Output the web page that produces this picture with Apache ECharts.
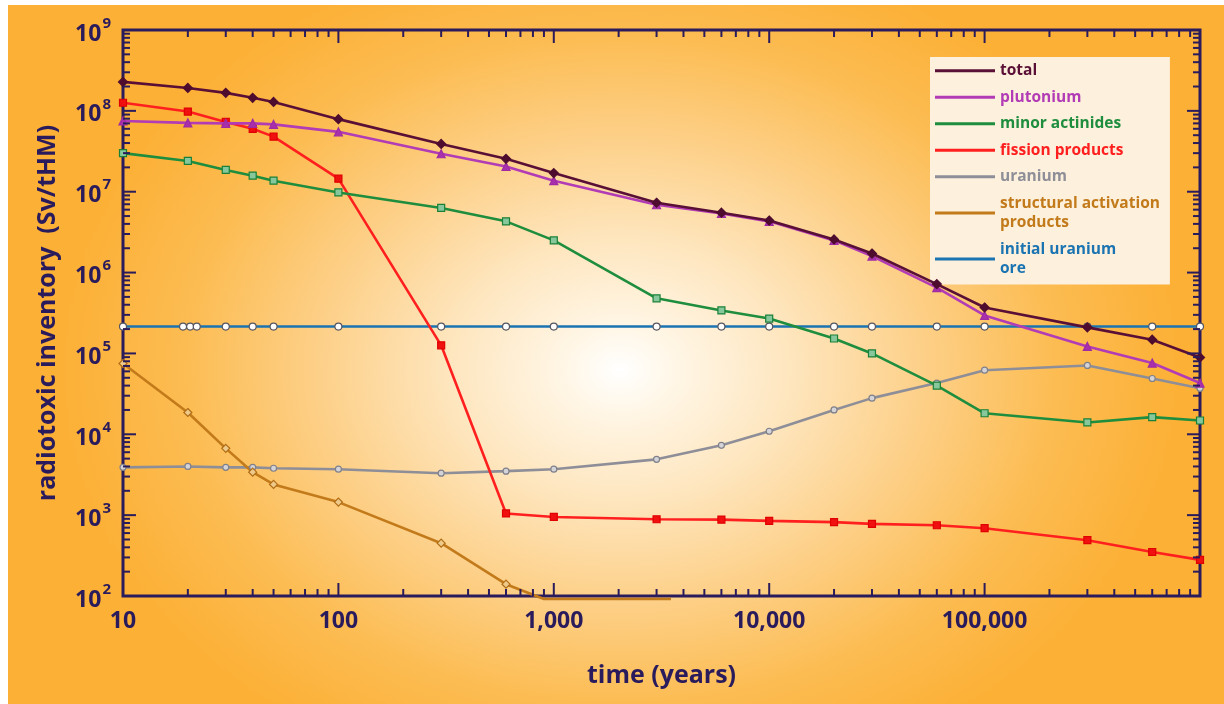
<!DOCTYPE html>
<html>
<head>
<meta charset="utf-8">
<script src="https://cdn.jsdelivr.net/npm/echarts@6/dist/echarts.min.js"></script>
<style>
  html, body { margin: 0; padding: 0; background: #ffffff; }
  #wrap { position: relative; width: 1224px; height: 704px; overflow: hidden; background: #ffffff; }
  #bg { position: absolute; left: 8px; top: 5px; right: 0; bottom: 0;
        background: radial-gradient(ellipse 560px 430px at 612px 365px,
          #ffffff 0%, #fff6e6 10%, #fee6bf 30%, #fdcf86 55%, #fcbc52 78%, #fcb036 100%); }
  #chart { position: absolute; left: 0; top: 0; width: 1224px; height: 704px; }
</style>
</head>
<body>
<div id="wrap"><div id="bg"></div><div id="chart"></div></div>
<script>
// ---- data (years, Sv/tHM) ----
const years = [10, 20, 30, 40, 50, 100, 300, 600, 1000, 3000, 6000, 10000, 20000, 30000, 60000, 100000, 300000, 600000, 1000000];

const totalVals      = [2.28e8, 1.92e8, 1.67e8, 1.45e8, 1.29e8, 7.9e7, 3.9e7, 2.55e7, 1.7e7, 7.3e6, 5.5e6, 4.4e6, 2.57e6, 1.72e6, 7.2e5, 3.7e5, 2.1e5, 1.48e5, 8.9e4];
const plutoniumVals  = [7.5e7, 7.1e7, 7.0e7, 7.0e7, 6.8e7, 5.5e7, 2.95e7, 2.05e7, 1.37e7, 6.9e6, 5.4e6, 4.3e6, 2.5e6, 1.6e6, 6.5e5, 2.95e5, 1.22e5, 7.6e4, 4.3e4];
const minorActVals   = [3.0e7, 2.4e7, 1.86e7, 1.58e7, 1.37e7, 9.8e6, 6.3e6, 4.3e6, 2.5e6, 4.8e5, 3.4e5, 2.7e5, 1.53e5, 1.0e5, 4.0e4, 1.82e4, 1.4e4, 1.63e4, 1.48e4];
const fissionVals    = [1.26e8, 9.8e7, 7.3e7, 6.0e7, 4.8e7, 1.45e7, 1.26e5, 1.05e3, 950, 890, 880, 850, 820, 780, 750, 690, 490, 350, 280];
const uraniumVals    = [3.9e3, 4.0e3, 3.9e3, 3.9e3, 3.8e3, 3.7e3, 3.3e3, 3.5e3, 3.7e3, 4.9e3, 7.3e3, 1.09e4, 2.0e4, 2.8e4, 4.3e4, 6.2e4, 7.1e4, 4.9e4, 3.7e4];

const structYears    = [10, 20, 30, 40, 50, 100, 300, 600, 900, 3500];
const structVals     = [7.5e4, 1.86e4, 6.7e3, 3.4e3, 2.4e3, 1.45e3, 450, 140, 92, 92];
const structMarked   = 8; // the first 8 points carry markers; the rest is the floor segment

const oreYears       = [10, 19, 20.5, 22, 30, 40, 50, 100, 300, 600, 1000, 3000, 6000, 10000, 20000, 30000, 60000, 100000, 300000, 600000, 1000000];
const oreVals        = [2.15e5, 2.15e5, 2.15e5, 2.15e5, 2.15e5, 2.15e5, 2.15e5, 2.15e5, 2.15e5, 2.15e5, 2.15e5, 2.15e5, 2.15e5, 2.15e5, 2.15e5, 2.15e5, 2.15e5, 2.15e5, 2.15e5, 2.15e5, 2.15e5];

const xMajorTicks = [10, 100, 1000, 10000, 100000, 1000000];
const yMajorTicks = [1e2, 1e3, 1e4, 1e5, 1e6, 1e7, 1e8, 1e9];
const minorMultiples = [2, 3, 4, 5, 6, 7, 8, 9];
const xLabelShown = ['10', '100', '1,000', '10,000', '100,000'];

const legendLabels = {
  'total': 'total',
  'plutonium': 'plutonium',
  'minor actinides': 'minor actinides',
  'fission products': 'fission products',
  'uranium': 'uranium',
  'structural activation products': 'structural activation\nproducts',
  'initial uranium ore': 'initial uranium\nore'
};

const C = {
  total: '#5a1036', plut: '#b23bb6', minor: '#1e8e3e', fis: '#ff1f1f',
  ura: '#8e8e98', str: '#c27a1a', ore: '#1b74b2', axis: '#2a1b5c'
};

function pairs(xs, ys) { return xs.map((x, i) => [x, ys[i]]); }

// tick data
const xTickData = [];
xMajorTicks.forEach((d, i) => {
  xTickData.push([d, 1e2, 1]);
  if (i < xMajorTicks.length - 1) minorMultiples.forEach(m => xTickData.push([d * m, 1e2, 0]));
});
const yTickData = [];
yMajorTicks.forEach((d, i) => {
  yTickData.push([10, d, 1]);
  if (i < yMajorTicks.length - 1) minorMultiples.forEach(m => yTickData.push([10, d * m, 0]));
});

const FONT = 'Open Sans';
const chart = echarts.init(document.getElementById('chart'), null, { renderer: 'canvas' });

function lineSeries(name, data, color, symbol, size, fill, border, z) {
  return {
    name, type: 'line', data, z: z,
    symbol, symbolSize: size, showSymbol: true,
    lineStyle: { color, width: 2.6 },
    itemStyle: { color: fill, borderColor: border, borderWidth: 1.2 },
    emphasis: { disabled: true }
  };
}

function legendItem(name, color) {
  return { name, itemStyle: { color, borderWidth: 0 }, textStyle: { color } };
}

const option = {
  animation: false,
  backgroundColor: 'transparent',
  grid: { left: 123, right: 24, top: 30, bottom: 108, show: true, borderColor: C.axis, borderWidth: 3, backgroundColor: 'transparent' },
  xAxis: {
    type: 'log', logBase: 10, min: 10, max: 1000000, splitNumber: 5,
    axisLine: { show: false }, axisTick: { show: false }, splitLine: { show: false },
    axisLabel: {
      margin: 14, fontFamily: FONT, fontWeight: 'bold', fontSize: 23, color: C.axis,
      formatter: function (v) { const i = Math.round(Math.log10(v)) - 1; return xLabelShown[i] || ''; }
    },
    name: 'time (years)', nameLocation: 'middle', nameGap: 65,
    nameTextStyle: { fontFamily: FONT, fontWeight: 'bold', fontSize: 25, lineHeight: 30, color: C.axis }
  },
  yAxis: {
    type: 'log', logBase: 10, min: 100, max: 1e9, splitNumber: 7,
    axisLine: { show: false }, axisTick: { show: false }, splitLine: { show: false },
    axisLabel: {
      margin: 12, color: C.axis,
      formatter: function (v) { return '{b|10}{s|' + Math.round(Math.log10(v)) + '}'; },
      rich: {
        b: { fontFamily: FONT, fontWeight: 'bold', fontSize: 23, color: C.axis, lineHeight: 28, padding: [8, 0, 0, 0] },
        s: { fontFamily: FONT, fontWeight: 'bold', fontSize: 15, color: C.axis, lineHeight: 16, verticalAlign: 'top', padding: [0, 0, 0, 1] }
      }
    },
    name: 'radiotoxic inventory  (Sv/tHM)', nameLocation: 'middle', nameGap: 60,
    nameTextStyle: { fontFamily: FONT, fontWeight: 'bold', fontSize: 25, lineHeight: 30, color: C.axis }
  },
  legend: {
    orient: 'vertical', left: 930, top: 57,
    padding: [4, 10, 6, 5],
    backgroundColor: '#fdf0dc',
    icon: 'rect', itemWidth: 60, itemHeight: 3, itemGap: 7,
    itemStyle: { borderWidth: 0 },
    selectedMode: false,
    textStyle: { fontFamily: FONT, fontWeight: 'bold', fontSize: 15.5, lineHeight: 19.5 },
    formatter: function (n) { return legendLabels[n]; },
    data: [
      legendItem('total', C.total),
      legendItem('plutonium', C.plut),
      legendItem('minor actinides', C.minor),
      legendItem('fission products', C.fis),
      legendItem('uranium', C.ura),
      legendItem('structural activation products', C.str),
      legendItem('initial uranium ore', C.ore)
    ]
  },
  series: [
    lineSeries('initial uranium ore', pairs(oreYears, oreVals), C.ore, 'circle', 7, '#ffffff', '#555560', 2),
    lineSeries('uranium', pairs(years, uraniumVals), C.ura, 'circle', 6, '#d4d4d8', '#80808a', 3),
    Object.assign(lineSeries('structural activation products', pairs(structYears, structVals), C.str, 'diamond', 8, '#edc98a', '#b06c14', 3),
      { clip: false, symbolSize: function (v, p) { return p.dataIndex < structMarked ? 8 : 0; } }),
    lineSeries('fission products', pairs(years, fissionVals), C.fis, 'rect', 7, '#f01010', '#e00000', 4),
    lineSeries('minor actinides', pairs(years, minorActVals), C.minor, 'rect', 7, '#86c89c', '#1a8038', 4),
    lineSeries('plutonium', pairs(years, plutoniumVals), C.plut, 'triangle', 8, '#a830ac', '#a02aa4', 5),
    lineSeries('total', pairs(years, totalVals), C.total, 'diamond', 9, '#4e0c2e', '#4e0c2e', 6),
    {
      type: 'custom', name: 'xticks', silent: true, z: 10, clip: false,
      data: xTickData, encode: { x: 0, y: 1 },
      renderItem: function (params, api) {
        const x = api.value(0), major = api.value(2);
        const pb = api.coord([x, 1e2]), pt = api.coord([x, 1e9]);
        const L = major ? 13 : 7;
        const st = { stroke: C.axis, lineWidth: 2 };
        return { type: 'group', children: [
          { type: 'line', shape: { x1: pb[0], y1: pb[1], x2: pb[0], y2: pb[1] - L }, style: st },
          { type: 'line', shape: { x1: pt[0], y1: pt[1], x2: pt[0], y2: pt[1] + L }, style: st }
        ] };
      }
    },
    {
      type: 'custom', name: 'yticks', silent: true, z: 10, clip: false,
      data: yTickData, encode: { x: 0, y: 1 },
      renderItem: function (params, api) {
        const y = api.value(1), major = api.value(2);
        const pl = api.coord([10, y]), pr = api.coord([1e6, y]);
        const L = major ? 13 : 7;
        const st = { stroke: C.axis, lineWidth: 2 };
        return { type: 'group', children: [
          { type: 'line', shape: { x1: pl[0], y1: pl[1], x2: pl[0] + L, y2: pl[1] }, style: st },
          { type: 'line', shape: { x1: pr[0], y1: pr[1], x2: pr[0] - L, y2: pr[1] }, style: st }
        ] };
      }
    }
  ]
};
chart.setOption(option);
</script>
</body>
</html>
